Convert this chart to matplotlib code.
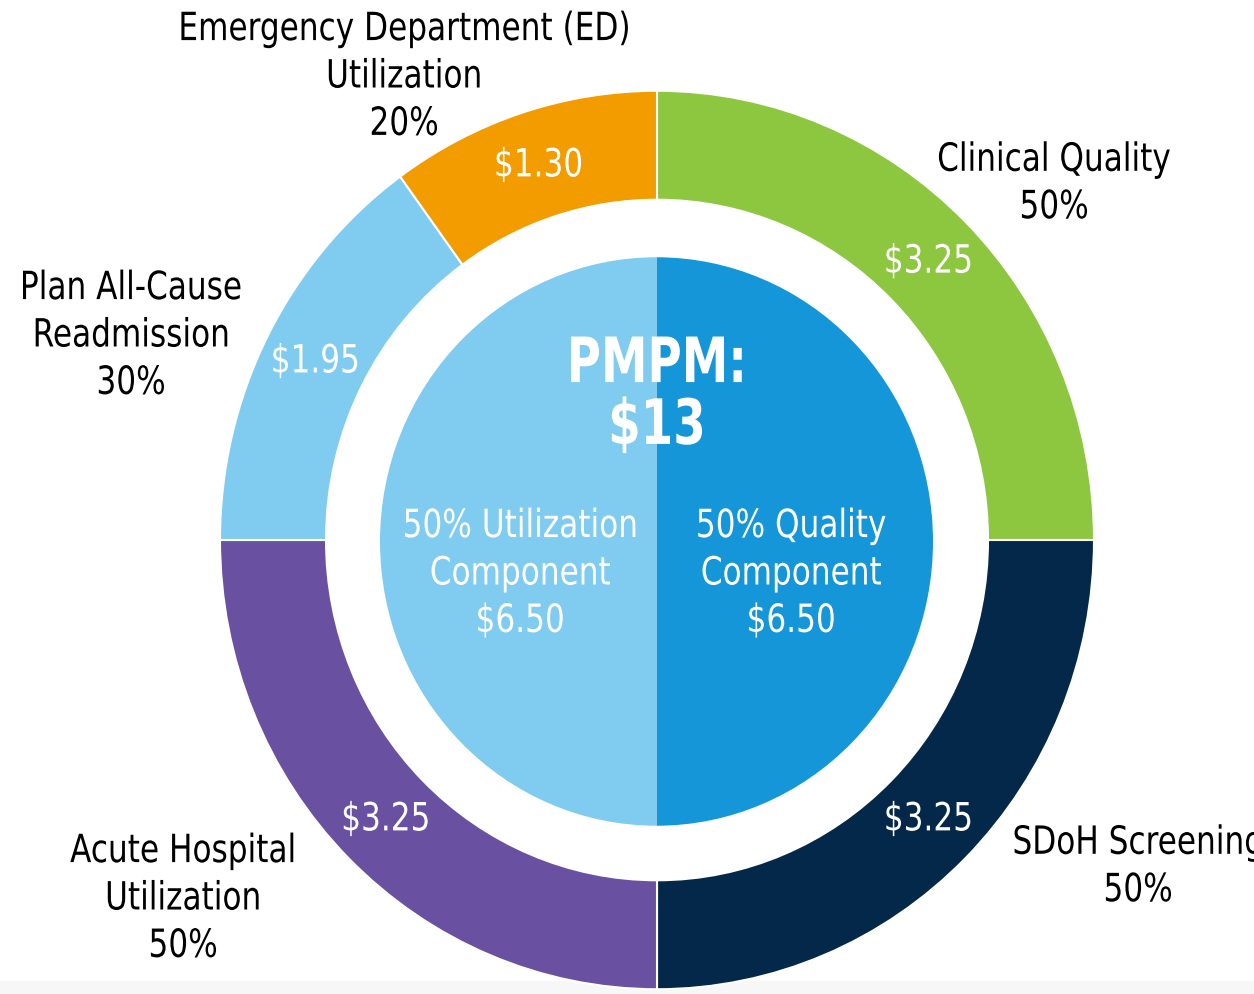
import matplotlib
matplotlib.use("Agg")
import matplotlib.pyplot as plt
from matplotlib.patches import Rectangle
from matplotlib.patheffects import AbstractPathEffect
from matplotlib.transforms import Affine2D

# ---------------- data ----------------
outer_labels = ["Clinical Quality\n50%", "SDoH Screening\n50%",
                "Acute Hospital\nUtilization\n50%", "Plan All-Cause\nReadmission\n30%",
                "Emergency Department (ED)\nUtilization\n20%"]
outer_values = [3.25, 3.25, 3.25, 1.95, 1.30]
outer_colors = ["#8DC63F", "#04284A", "#6A50A1", "#80CCF0", "#F39C00"]

inner_labels = ["50% Quality\nComponent\n$6.50", "50% Utilization\nComponent\n$6.50"]
inner_values = [6.50, 6.50]
inner_colors = ["#1596D8", "#80CCF0"]

center_title = "PMPM:\n$13"


# ---------------- helpers ----------------
class Stretch(AbstractPathEffect):
    """Stretch each text line (condensed look) about its own centre."""

    def __init__(self, sx, sy, fontsize_pt, dpi=100):
        super().__init__()
        self.sx, self.sy = sx, sy
        self.mid = 0.36 * fontsize_pt * dpi / 72.0  # half cap height, px

    def draw_path(self, renderer, gc, tpath, affine, rgbFace=None):
        bb = tpath.get_extents(affine)
        cx = 0.5 * (bb.x0 + bb.x1)
        ox, oy = affine.transform((0, 0))
        cy = oy + self.mid
        aff = affine + (Affine2D().translate(-cx, -cy)
                        .scale(self.sx, self.sy).translate(cx, cy))
        renderer.draw_path(gc, tpath, aff, rgbFace)


W, H = 1254, 994
S = 1.028  # vertical stretch of the reference drawing
FAM = "DejaVu Sans"
FS = 22
FS_TITLE = 34
LABEL_FX = [Stretch(1.02, 28 / 22, FS)]
TITLE_FX = [Stretch(0.99, 45 / 34, FS_TITLE)]


def py(v):
    return (H - v) / S


fig = plt.figure(figsize=(W / 100, H / 100), dpi=100)
ax = fig.add_axes([0, 0, 1, 1])

total = sum(outer_values)

ax.add_patch(Rectangle((0, py(H)), W, py(981) - py(H), facecolor="#F7F7F7",
                       edgecolor="none", zorder=0))

wedges, _, autotexts = ax.pie(
    outer_values, colors=outer_colors, radius=437, center=(657, py(540)),
    startangle=90, counterclock=False,
    wedgeprops=dict(width=106, edgecolor="white", linewidth=1.5),
    autopct=lambda p: f"${p * total / 100:.2f}", pctdistance=0.878,
    textprops=dict(color="white", fontsize=FS, family=FAM, path_effects=LABEL_FX))

ax.pie(inner_values, colors=inner_colors, radius=276.5, center=(656.5, py(541.5)),
       startangle=90, counterclock=False,
       wedgeprops=dict(edgecolor="none", linewidth=0))

# outer category labels
label_pos = [(1054, 183), (1138, 866), (183, 898), (131, 335), (404, 76)]
for txt, (x, y) in zip(outer_labels, label_pos):
    ax.text(x, py(y), txt, ha="center", va="center", fontsize=FS, family=FAM,
            color="black", linespacing=1.80, multialignment="center",
            path_effects=LABEL_FX)

# inner labels
inner_pos = [(791, 573), (520, 573)]
for txt, (x, y) in zip(inner_labels, inner_pos):
    ax.text(x, py(y), txt, ha="center", va="center", fontsize=FS, family=FAM,
            color="white", linespacing=1.80, multialignment="center",
            path_effects=LABEL_FX)

ax.text(657, py(395), center_title, ha="center", va="center", fontsize=FS_TITLE,
        fontweight="bold", family=FAM, color="white", linespacing=1.48,
        path_effects=TITLE_FX)

ax.set_aspect("auto")
ax.set_xlim(0, W)
ax.set_ylim(py(H), py(0))
ax.axis("off")

fig.savefig("out.png", dpi=100, facecolor="white")
